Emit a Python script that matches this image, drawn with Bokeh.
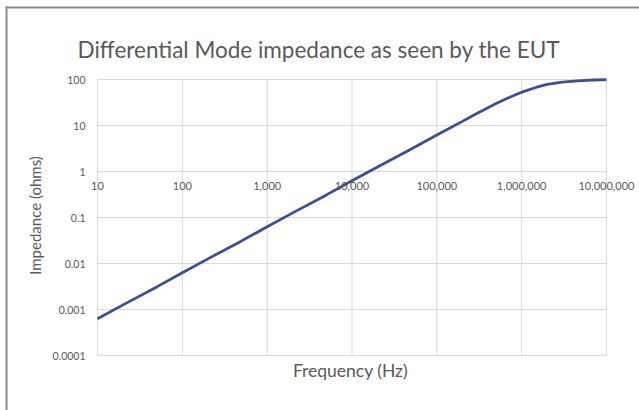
import math
from bokeh.plotting import figure
from bokeh.models import Range1d, Label, LabelSet, ColumnDataSource, BoxAnnotation
from bokeh.core.properties import value
from bokeh.embed import file_html
from bokeh.resources import INLINE

# Data (estimated)
freq_hz = [10, 20, 50, 100, 200, 500, 1000, 2000, 5000, 10000, 20000, 50000,
           100000, 200000, 300000, 500000, 700000, 1000000, 1500000, 2000000,
           3000000, 5000000, 7000000, 10000000]
impedance_ohms = [0.00063, 0.00126, 0.0031, 0.0063, 0.0126, 0.031, 0.063,
                  0.126, 0.31, 0.63, 1.25, 3.1, 6.2, 12.3, 18.5, 30, 40, 53,
                  68, 78, 88, 95, 97.5, 99]

x_ticks = [10, 100, 1000, 10000, 100000, 1000000, 10000000]
x_tick_labels = ["10", "100", "1,000", "10,000", "100,000", "1,000,000", "10,000,000"]
y_ticks = [0.0001, 0.001, 0.01, 0.1, 1, 10, 100]
y_tick_labels = ["0.0001", "0.001", "0.01", "0.1", "1", "10", "100"]
x_label_row = [1] * len(x_ticks)        # horizontal axis crosses at impedance = 1
y_label_col = [x_ticks[0]] * len(y_ticks)

TITLE = "Differential Mode impedance as seen by the EUT"
X_TITLE = "Frequency (Hz)"
Y_TITLE = "Impedance (ohms)"

FONT = "Lato"
GREY = "#595959"
GRID = "#d9d9d9"
FRAME = "#8c8c8c"

# layout: plot box 97..606 px (x) and 79..355 px (y) inside a 639x410 canvas
W, H = 639, 410
BOX_L, BOX_R, BOX_T, BOX_B = 97, 606, 79, 355
dec_x = (BOX_R - BOX_L) / (len(x_ticks) - 1)
dec_y = (BOX_B - BOX_T) / (len(y_ticks) - 1)
x_range = Range1d(x_ticks[0] / 10 ** (BOX_L / dec_x), x_ticks[-1] * 10 ** ((W - BOX_R) / dec_x))
y_range = Range1d(y_ticks[0] / 10 ** ((H - BOX_B) / dec_y), y_ticks[-1] * 10 ** (BOX_T / dec_y))

p = figure(width=W, height=H, x_axis_type="log", y_axis_type="log",
           x_range=x_range, y_range=y_range,
           x_axis_location=None, y_axis_location=None, title=None,
           output_backend="svg", toolbar_location=None,
           min_border=0, min_border_left=0, min_border_right=0,
           min_border_top=0, min_border_bottom=0)

p.outline_line_color = None
p.xgrid.grid_line_color = None
p.ygrid.grid_line_color = None
p.background_fill_color = "white"
p.border_fill_color = "white"

# chart-area border: top and left strips
p.add_layout(BoxAnnotation(left=5, right=W + 50, top=6, bottom=8,
                           left_units="canvas", right_units="canvas",
                           top_units="canvas", bottom_units="canvas",
                           fill_color=FRAME, fill_alpha=1.0, line_color=None))
p.add_layout(BoxAnnotation(left=5, right=7, top=6, bottom=H + 50,
                           left_units="canvas", right_units="canvas",
                           top_units="canvas", bottom_units="canvas",
                           fill_color=FRAME, fill_alpha=1.0, line_color=None))

# plot box grid, built from the tick lists
nx, ny = len(x_ticks), len(y_ticks)
p.segment(x0=x_ticks, x1=x_ticks, y0=[y_ticks[0]] * nx, y1=[y_ticks[-1]] * nx,
          line_color=GRID, line_width=1)
p.segment(x0=[x_ticks[0]] * ny, x1=[x_ticks[-1]] * ny, y0=y_ticks, y1=y_ticks,
          line_color=GRID, line_width=1)

# x tick labels along impedance = 1
xsrc = ColumnDataSource(dict(x=x_ticks, y=x_label_row, text=x_tick_labels))
p.add_layout(LabelSet(x="x", y="y", text="text", source=xsrc,
                      text_align="center", text_baseline="top", y_offset=-10,
                      text_font=value(FONT), text_font_size=value("11px"),
                      text_color=GREY))

# y tick labels
ysrc = ColumnDataSource(dict(x=y_label_col, y=y_ticks, text=y_tick_labels))
p.add_layout(LabelSet(x="x", y="y", text="text", source=ysrc,
                      text_align="right", text_baseline="middle", x_offset=-12,
                      text_font=value(FONT), text_font_size=value("10.5px"),
                      text_color=GREY))

# titles
p.add_layout(Label(x=x_ticks[0], y=y_ticks[-1], x_offset=-20, y_offset=30,
                   text=TITLE, text_align="left", text_baseline="middle",
                   text_font=FONT, text_font_size="22.5px", text_color=GREY))
p.add_layout(Label(x=x_ticks[0], y=y_ticks[0], x_offset=253, y_offset=-15,
                   text=X_TITLE, text_align="center", text_baseline="middle",
                   text_font=FONT, text_font_size="17.5px", text_color=GREY))
p.add_layout(Label(x=x_ticks[0], y=y_ticks[3], x_offset=-63, y_offset=2,
                   text=Y_TITLE, text_align="center", text_baseline="middle",
                   angle=math.pi / 2, angle_units="rad",
                   text_font=FONT, text_font_size="15px", text_color=GREY))

p.line(freq_hz, impedance_ohms, line_color="#3b4e9a", line_width=2.8)

open("out.html", "w").write(file_html(p, INLINE))
